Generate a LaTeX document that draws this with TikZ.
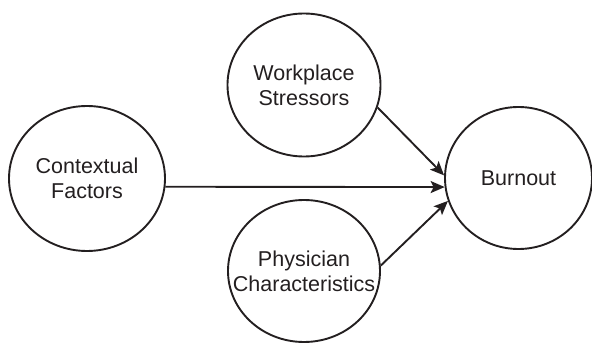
\documentclass[tikz,border=0pt]{standalone}
\usepackage{fontspec}
\setmainfont{Liberation Sans}
\usetikzlibrary{shapes.geometric,arrows.meta}
\definecolor{ink}{HTML}{231F20}
\newcommand{\fitline}[1]{\makebox[0pt][c]{#1}}
\begin{document}
\begin{tikzpicture}[x=1pt,y=1pt,
  factor/.style={ellipse, draw=ink, line width=1.9pt, text=ink,
    inner sep=0pt, align=center, font=\fontsize{21.5}{25}\selectfont},
  link/.style={draw=ink, line width=1.9pt,
    -{Stealth[length=14pt,width=12pt,inset=3pt]}}]
  \useasboundingbox (0,0) rectangle (592,343);
  % factors
  \node[factor, minimum width=156pt, minimum height=145pt] (ctx) at (87,164.5) {Contextual\\Factors};
  \node[factor, minimum width=153pt, minimum height=143pt] (ws) at (304,258) {Workplace\\Stressors};
  \node[factor, minimum width=152pt, minimum height=142pt] (pc) at (304,72)
    {\fitline{Physician}\\\fitline{Characteristics}};
  \node[factor, minimum width=147pt, minimum height=142pt] (bo) at (518.5,165) {Burnout};
  % influences on burnout
  \draw[link] (ctx.-6) -- (bo.187);
  \draw[link] (ws.-17.5) -- (bo.178);
  \draw[link] (pc.4.5) -- (bo.198);
\end{tikzpicture}
\end{document}
